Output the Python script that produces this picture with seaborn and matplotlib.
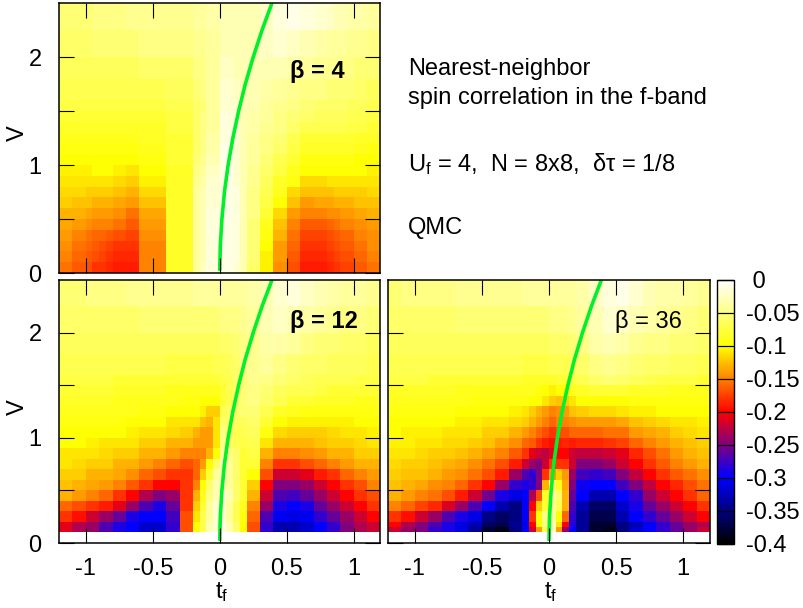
import matplotlib
matplotlib.use("Agg")
import matplotlib.pyplot as plt
import numpy as np
import seaborn as sns

# cell edges
tf_edges_top = [-1.2,-1.1,-1.0,-0.95,-0.9,-0.85,-0.8,-0.7,-0.6,-0.4,-0.2,-0.15,-0.1,0,
                0.1,0.15,0.2,0.3,0.4,0.5,0.6,0.7,0.8,0.85,0.9,0.95,1.0,1.1,1.2]
tf_edges_low = [-1.2,-1.1,-1.0,-0.9,-0.8,-0.7,-0.6,-0.5,-0.4,-0.3,-0.2,-0.15,-0.1,-0.05,0,
                0.05,0.1,0.15,0.2,0.3,0.4,0.5,0.6,0.7,0.8,0.9,1.0,1.1,1.2]
v_edges_top = [0,0.1,0.2,0.3,0.4,0.5,0.6,0.7,0.8,0.9,1.0,1.1,1.2,1.3,1.4,1.5,1.6,1.8,2.0,2.25,2.5]
v_edges_12 = v_edges_top[1:]
v_edges_36 = [0.1,0.15] + v_edges_top[2:]

# magnitude of the correlation in units of 0.01, rows from low V to high V
beta4 = [
 [15.5,16.5,17,18,18,18.5,19,19,15,8.5,4,2.5,1.5, 1,2,3,6,10.5,14.5,17,19,19,18.5,18,17.5,17.5,16.5,15.5],
 [15,16,16.5,17,17.5,18,18.5,18.5,15,8.5,4,3,1.5, 1,1.5,3,5.5,10.5,14,16.5,18.5,18.5,18,17.5,17,17,16,15],
 [14.5,15.5,16,16.5,17,17.5,18,18,15,8.5,4,3,1.5, 1,1.5,3,5.5,10,14,16,18,18,17.5,17,16.5,16.5,15.5,14.5],
 [14,15,15.5,16,16,16.5,17,17.5,14.5,8.5,4,3,1.5, 1,1.5,3,5.5,9.5,13,15.5,17.5,17.5,17,16.5,16,16,15,14.5],
 [13.5,14,14.5,15,15,15,15.5,16.5,14,8.5,4,3,1.5, 1,1.5,3,5.5,9,12.5,15,16.5,16.5,16,15.5,15,15,14.5,14],
 [13,13,13.5,14,14,14,14.5,15.5,13.5,8.5,4,3,1.5, 1,1.5,3,5,8,11.5,14,15,15,14.5,14.5,14,14,13.5,13],
 [12,12.5,12.5,13,13,13,13.5,14,12.5,8.5,4,3,2, 1,1.5,3,5,7.5,10,12.5,14,13.5,13.5,13,13,13,12.5,12.5],
 [11.5,11.5,12,12,12,12,12.5,13,11.5,8.5,4,3,2, 1,1.5,3,5,7,9,11.5,12.5,12.5,12.5,12,12,12,12,11.5],
 [11,11,11,11,11,11,11.5,12,10.5,8.5,4.5,3.5,2, 1,2,3,4.5,6.5,8.5,9.5,11.5,11.5,11,11,11,11,11,11],
 [10.5,10.5,10.5,10,10,10,10.5,11,10,8.5,5,4,2.5, 1,2,3,4.5,6,7.5,9,10,10,10,10,10,10,10,10.5],
 [10,10,10,10,10,10,10,10,9.5,8,5.5,4.5,3, 1,2,3,4,5.5,7,8,9.5,9.5,9.5,9.5,9.5,9.5,10,10],
 [9.5,9.5,9.5,9.5,9.5,9.5,9.5,9.5,9,8,6,5,3.5, 1,2,3,4,5,6,7.5,8.5,8.5,8.5,8.5,8.5,8.5,9,9.5],
 [9,9,9,9,9,9,9,9,8.5,8,6,5,3.5, 1.5,2,3,4,5,5.5,7,8,8,8,8,8,8,8.5,8.5],
 [8.5,8.5,8.5,8.5,8.5,8.5,8.5,8.5,8.5,7.5,6,5,4, 1.5,2,3,3.5,4.5,5,6,7,7,7,7,7,7.5,7.5,8],
 [8,8,8,8,8,8,8,8,8,7.5,6,5,4, 1.5,2,3,3.5,4,5,5.5,6,6.5,6.5,6.5,6.5,7,7,7.5],
 [7.5,7.5,7.5,7.5,7.5,7.5,7.5,7.5,7.5,7,6,5.5,4, 2,2,3,3,4,4.5,5,5.5,6,6,6,6,6.5,6.5,7],
 [7,7,7,7,7,7,7,7,7,6.5,5.5,5,4, 2,2.5,3,3,3.5,4,4.5,5,5,5.5,5.5,5.5,5.5,6,6.5],
 [6.5,6.5,6.5,6.5,6.5,6.5,6.5,6.5,6,6,5,5,4, 2.5,3,3,3,3,3,3.5,4,4.5,4.5,4.5,5,5,5.5,5.5],
 [6,6,6,5.5,5.5,5.5,5.5,5.5,5,5,4.5,4.5,4, 3,3,3,3,2.5,2,2.5,3,3.5,4,4,4,4.5,4.5,5],
 [5.5,5.5,5.5,5,5,5,5,4.5,4.5,4.5,4,4,3.5, 3,3,3,3,2.5,1.5,1,1.5,2,2.5,3,3,3.5,3.5,4],
]
beta12 = [
 [21,23,24,27,29,30,32,32,28,17, 10,7,3,2, 1,3,6,10, 17,28,33,33,32,30,28,25,23,22],
 [18,19.5,22,24,26,29,30,30,27.5,17, 11,7,4,2, 2,4,7,9.5, 16,27,30.5,31,30.5,28,26,24,22,20],
 [16,17,18,19,21,24,27,29,26,18, 12,8,4,2, 2,4,7,9, 15,24,29,30,29,26,24,22,20,18],
 [13,14,15,16,18,20,23,25,24,18, 13,9,5,3, 2,3,6,8, 13,22,27,27.5,26,24,22,20,18,17],
 [12.5,13,13.5,14,15,16.5,18,20,20,18, 15,10,6,3, 3,4,6,8, 12,20,25,25,24,22,20,18,17,15],
 [12,12,13,13,13.5,14.5,16,17,18,18, 16,12,8,4, 3,4,6,8, 10,17,22,22,21,19,18,16,15,14],
 [11,11.5,12,12,13,13,14,15,16,17, 16,14,10,6, 3,4,6,8, 8,15,18,18,17,16,15,14,13,13],
 [11,11,11,11.5,12,12,13,13,14,15, 15,15,13,10, 4,5,6,8, 7.5,13,15,15,14.5,14,13,13,12,12],
 [10,10,10.5,11,11,11,12,12,13,13, 14,14,14,11, 5,6,7,7.5, 7,11,13,13,13,12.5,12,12,11.5,11],
 [10,10,10,10,10,10.5,11,11,11.5,12, 13,14,14,11, 5,6,7,7, 6.5,9.5,11.5,12,12,12,11.5,11,11,10.5],
 [9.5,9.5,9.5,9.5,9.5,10,10,10,11,11, 11,12.5,13,11, 6,6,6.5,6.5, 6,8,10,10.5,10.5,10.5,10.5,10.5,10,10],
 [9,9,9,9,9,9,9.5,9.5,10,10, 10,10.5,12,12, 7,6,6,5.5, 5.5,7,8.5,9,9.5,9.5,9.5,9.5,9.5,9.5],
 [8.5,8.5,8.5,8.5,9,9,9,9,9,9.5, 9.5,10,10,10, 8,7,6,5.5, 5,6,7,8,8,8.5,8.5,8.5,9,9],
 [8,8,8,8,8.5,8.5,8.5,8.5,9,9, 9,9,9,9, 8,7,6,5.5, 5,5.5,6.5,7,7,7.5,8,8,8,8],
 [7.5,7.5,7.5,7.5,8,8,8,8,8,8, 8,8,8,8, 7.5,7,6,5.5, 4.5,5,5.5,6,6.5,7,7,7,7.5,7.5],
 [7,7,7,7,7,7,7,7,7.5,7.5, 7.5,7.5,7.5,7, 7,6.5,6,5, 4.5,4,5,5.5,6,6,6.5,6.5,6.5,7],
 [6.5,6.5,6.5,6.5,6.5,6.5,6.5,6.5,6.5,6.5, 6.5,6.5,6.5,6.5, 6,6,5.5,5, 4.5,3.5,3.5,4,5,5.5,5.5,6,6,6.5],
 [6,6,6,6,6,6,5.5,5.5,5.5,5.5, 5.5,5.5,5.5,5.5, 5,5,5,4.5, 4,3,2.5,3,3.5,4,4.5,5,5,5.5],
 [5.5,5.5,5,5,5,4.5,4.5,4.5,4.5,4.5, 4,4,4,4, 4,4,4,4, 3.5,3,2,1.5,2.5,3,3.5,4,4,4.5],
]
beta36 = [
 [22,24,25,28,29,31,34,38,39,35, 30,22,14,7, 3,14,24,30, 34,38,39,35,32,30,28,26,24,22],
 [20,23,25,27,29,31,33,36,37,34, 31,20,10,5, 3,11,20,29, 34,38,38,35,33,30,28,26,24,23],
 [18,19.5,22,24,27,29,31,35,36,35, 30,18,10,5, 4,10,16,28, 34,37,37,33,30,28,26,24,22,20],
 [15,16,17.5,18.5,21.5,24,27,30,33,35, 30,20,12,8, 5,7,13,27, 33,36,36,32,29,26,24,22,20,18],
 [13,14,15,15.5,17,19,22,25.5,29,31, 30,23,17,8.5, 4,6,13,26, 30,33,33,30,28,24,22,20,18,16],
 [12.5,13,13.5,14.5,15,16,18,20,24,28, 29,28,25,13, 6,9,13.5,25, 29.5,30,30,27.5,25,22.5,20,18.5,17,15.5],
 [12,12.5,12.5,13,14,14.5,15.5,17,19,24, 27,28,25,18, 14,12,14,24, 27.5,28,27.5,25,22.5,20,18,16.5,15.5,14.5],
 [11.5,12,12,12.5,13,13.5,14.5,15.5,17,19, 22,24,25,22, 18,18,18,22, 25,25,24,22,20,18,16.5,15,14,13],
 [11,11,11.5,12,12,12.5,13,14,15,16.5, 18,21,22,22.5, 21,20,20,22, 22.5,22.5,22,21,18.5,17,15.5,14,13,12.5],
 [10.5,10.5,11,11,11.5,11.5,12,12.5,13.5,14.5, 16,16.5,18,19, 19.5,19,18.5,19, 18.5,18.5,18,17.5,16,15,14,13,12.5,12],
 [10,10.5,10.5,10.5,11,11,11,12,12,13, 14,15,16,17, 18,17,17,16, 16,16,15.5,15.5,14,13.5,13,12,11.5,11],
 [10,10,10,10,10,10.5,10.5,11,11,11.5, 12,13,14,15, 16,15,15,14.5, 14,14,14,13.5,12.5,12,11.5,11,11,10.5],
 [9.5,9.5,9.5,9.5,9.5,10,10,10,10,10.5, 11,12,13,14, 15,14.5,14,12.5, 12,11.5,11.5,11,10.5,10.5,10,10,10,10],
 [9,9,9,9,9,9,9.5,9.5,9.5,9.5, 9.5,10,10,11, 12,12.5,12,11, 10,10,10,10,9.5,9.5,9.5,9.5,9.5,9.5],
 [8.5,8.5,8.5,8.5,8.5,9,9,9,9,9, 9,9,9.5,10, 10.5,10,10,9, 8.5,8,8,8,8.5,8.5,8.5,9,9,9],
 [7.5,7.5,7.5,8,8,8,8,8,8,8, 8.5,8.5,8.5,8.5, 8.5,8,8,7.5, 7,6,5.5,6,6.5,7,7.5,7.5,7.5,8],
 [7,7,7,7,7,7,7,7,7,7, 7.5,7.5,7.5,7.5, 7,7,7,6.5, 6,5,4.5,5,5.5,6,6,6.5,6.5,7],
 [6.5,6.5,6.5,6.5,6.5,6.5,6.5,6.5,6.5,6.5, 6.5,6.5,6.5,6.5, 6,6,6,5.5, 5,3.5,3,3.5,4.5,5,5,5.5,5.5,6],
 [6,6,6,6,6,5.5,5.5,5.5,5.5,5.5, 5.5,5.5,5.5,5.5, 5,5,5,4.5, 4,3,2,2.5,3,3.5,4,4.5,5,5.5],
 [5.5,5,5,5,5,4.5,4.5,4.5,4.5,4.5, 4,4,4,4, 4,4,4,4, 3.5,2.5,1.5,1,2,3,3.5,3.5,4,4.5],
]

# green curve
curve_v  = [0.02,0.25,0.5,0.75,1.0,1.25,1.5,1.75,2.0,2.25,2.5]
curve_tf = [0.0,0.004,0.016,0.035,0.0625,0.098,0.141,0.191,0.25,0.316,0.39]

x_ticks = [-1,-0.5,0,0.5,1]
x_labels = ['-1','-0.5','0','0.5','1']
v_ticks = [0,0.5,1,1.5,2]
v_labels = ['0','','1','','2']
cbar_ticks = [0,-0.05,-0.1,-0.15,-0.2,-0.25,-0.3,-0.35,-0.4]
cbar_labels = [' 0','-0.05','-0.1','-0.15','-0.2','-0.25','-0.3','-0.35','-0.4']

sns.set_theme(style='ticks')
plt.rcParams['font.family'] = ['Liberation Sans', 'DejaVu Sans']
plt.rcParams['mathtext.default'] = 'regular'
plt.rcParams['axes.unicode_minus'] = False
plt.rcParams['axes.axisbelow'] = False

W, H = 804, 608
fig = plt.figure(figsize=(W/100, H/100), dpi=100, facecolor='white')

def rect(x0, y0, x1, y1):
    return [x0/W, 1-y1/H, (x1-x0)/W, (y1-y0)/H]

cmap = sns.blend_palette(['#000000','#0000ff','#ff0000','#ffff00','#ffffff'], n_colors=256, as_cmap=True)
FS = 17

def panel(box, xe, ye, data, label, label_xy, weight, showx, showy):
    ax = fig.add_axes(rect(*box))
    ax.set_axisbelow(False)
    Z = -np.array(data, dtype=float)/100
    m = ax.pcolormesh(xe, ye, Z, cmap=cmap, vmin=-0.4, vmax=0, shading='flat', linewidth=0, antialiased=False)
    sns.lineplot(x=curve_tf, y=curve_v, ax=ax, sort=False, estimator=None, color='#00f02c', lw=2.6, solid_capstyle='butt')
    ax.set_xlim(-1.2, 1.2); ax.set_ylim(0, 2.5)
    ax.set_xticks(x_ticks); ax.set_yticks(v_ticks)
    ax.set_xticklabels(x_labels if showx else ['']*5)
    ax.set_yticklabels(v_labels if showy else ['']*5)
    ax.tick_params(axis='both', direction='in', length=10.8, width=0.8, color='black',
                   top=True, right=True, labelsize=FS, labelcolor='black')
    ax.tick_params(axis='x', pad=10.5); ax.tick_params(axis='y', pad=12.5)
    ax.set_xlabel(''); ax.set_ylabel('')
    for s in ax.spines.values():
        s.set_linewidth(1.1); s.set_color('black'); s.set_zorder(5)
    fig.text(label_xy[0]/W, 1-label_xy[1]/H, label, fontsize=FS, fontweight=weight, color='black', ha='left', va='baseline')
    return m

panel((59,3,380.5,273), tf_edges_top, v_edges_top, beta4, 'β = 4', (290,78), 'bold', False, True)
panel((59,280,380.5,543), tf_edges_low, v_edges_12, beta12, 'β = 12', (290,328), 'bold', True, True)
m = panel((388,280,710,543), tf_edges_low, v_edges_36, beta36, 'β = 36', (615,328), 'normal', True, False)

cax = fig.add_axes(rect(717.5,280,734,543.5))
cb = fig.colorbar(m, cax=cax)
cb.set_ticks(cbar_ticks); cb.set_ticklabels(cbar_labels)
cb.minorticks_off()
cax.set_axisbelow(False)
cax.tick_params(axis='y', direction='in', length=11.8, width=0.8, color='black', left=True, right=True,
                labelsize=FS, pad=9, labelcolor='black')
cb.outline.set_linewidth(1.0); cb.outline.set_edgecolor('black')

def txt(x, y, s, **kw):
    fig.text(x/W, 1-y/H, s, fontsize=kw.pop('fontsize', FS), color='black', **kw)

txt(408, 75, 'Nearest-neighbor', va='baseline')
txt(408, 104, 'spin correlation in the f-band', va='baseline')
txt(408, 171, r'U$_{f}$ = 4,  N = 8x8,  δτ = 1/8', va='baseline')
txt(408, 234, 'QMC', va='baseline')
txt(18, 133, 'V', rotation=90, ha='center', va='center')
txt(18, 407, 'V', rotation=90, ha='center', va='center')
txt(222, 592, r't$_{f}$', ha='center', va='center')
txt(551, 592, r't$_{f}$', ha='center', va='center')

fig.savefig('out.png', dpi=100, facecolor='white')
